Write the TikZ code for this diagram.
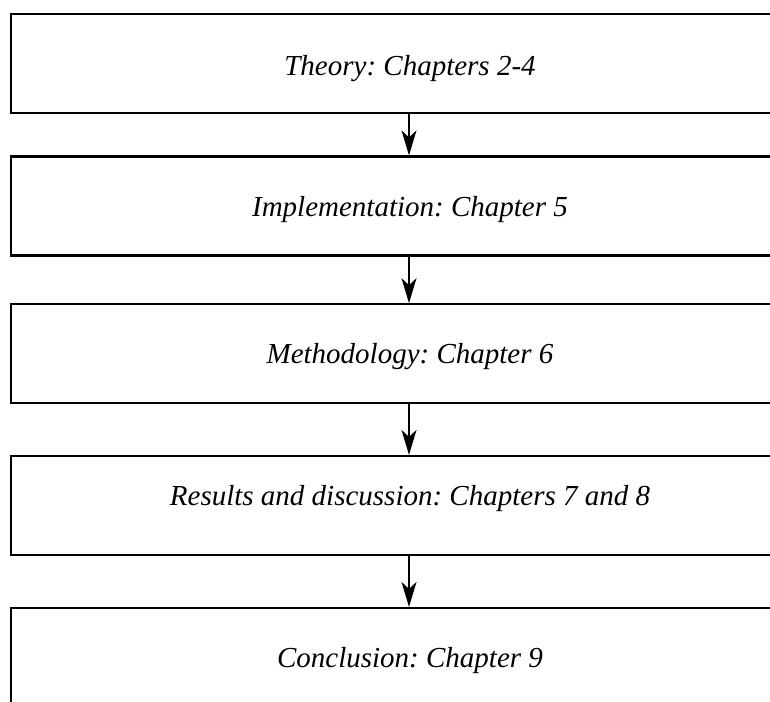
\documentclass[tikz,border=0pt]{standalone}
\usepackage{fontspec}
\setmainfont{Liberation Serif}
\frenchspacing
\usetikzlibrary{arrows.meta}
\tikzset{
  chapbox/.style={draw=black, line width=2.2pt, fill=white, minimum width=798pt,
    minimum height=99pt, inner sep=0pt, anchor=center},
  chaptext/.style={inner sep=0pt, anchor=base,
    font=\fontsize{29}{34}\selectfont\itshape},
  flow/.style={line width=1.3pt, -{Stealth[length=25pt, width=15pt, inset=7pt]}}
}
\begin{document}
\begin{tikzpicture}[x=1pt, y=-1pt]
  \useasboundingbox (0,0) rectangle (770,701);
  \clip (0,0) rectangle (770,701);
  % chapter boxes
  \node[chapbox] (theory)  at (410,63.5)   {};
  \node[chapbox] (impl)    at (410,206)    {};
  \node[chapbox] (method)  at (410,353.75) {};
  \node[chapbox] (results) at (410,505.5)  {};
  \node[chapbox] (concl)   at (410,657.5)  {};
  % box captions
  \node[chaptext] (theory-t)  at (410,75)    {Theory: Chapters 2-4};
  \node[chaptext] (impl-t)    at (410,216.5) {Implementation: Chapter 5};
  \node[chaptext] (method-t)  at (410,363)   {Methodology: Chapter 6};
  \node[chaptext] (results-t) at (410,505)   {Results and discussion: Chapters 7 and 8};
  \node[chaptext] (concl-t)   at (410,667)   {Conclusion: Chapter 9};
  % flow between boxes
  \draw[flow] (theory.south -| 409,0) -- (impl.north -| 409,0);
  \draw[flow] (impl.south -| 409,0) -- (method.north -| 409,0);
  \draw[flow] (method.south -| 409,0) -- (results.north -| 409,0);
  \draw[flow] (results.south -| 409,0) -- (concl.north -| 409,0);
\end{tikzpicture}
\end{document}
